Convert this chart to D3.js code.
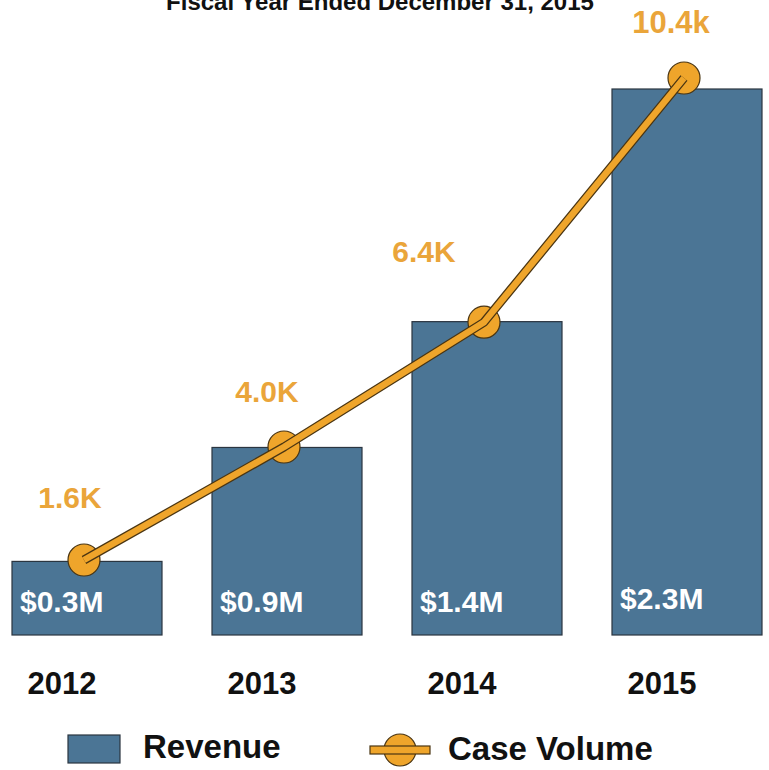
<!DOCTYPE html>
<html><head><meta charset="utf-8">
<script src="https://cdn.jsdelivr.net/npm/d3@7"></script>
<style>body{margin:0;background:#fff}svg{display:block}</style>
</head><body>
<svg id="c" width="769" height="770"></svg>
<script>
const years = ["2012", "2013", "2014", "2015"];
const revenueM = [0.31, 0.79, 1.32, 2.3];          // bar heights
const revenueLabels = ["$0.3M", "$0.9M", "$1.4M", "$2.3M"];
const caseVolumeK = [1.40, 3.51, 5.84, 10.4];      // point heights
const caseLabels = ["1.6K", "4.0K", "6.4K", "10.4k"];
const title = "Fiscal Year Ended December 31, 2015";

const svg = d3.select("#c");
const font = "'Liberation Sans', Arial, sans-serif";
const blue = "#4b7595", orange = "#efa52b", orangeText = "#eaa53a";

const x = d3.scaleBand().domain(years).range([12, 762]).paddingInner(0.25).paddingOuter(0);
const yRev = d3.scaleLinear().domain([0, 2.3]).range([635, 89]);
const yCase = d3.scaleLinear().domain([0, 10.4]).range([635, 78]);

svg.append("text").attr("x", 380).attr("y", 10).attr("text-anchor", "middle")
  .attr("font-family", font).attr("font-weight", "bold").attr("font-size", 24)
  .attr("fill", "#111").text(title);

svg.selectAll("rect.bar").data(years).join("rect").attr("class", "bar")
  .attr("x", d => x(d)).attr("width", x.bandwidth())
  .attr("y", (d, i) => yRev(revenueM[i])).attr("height", (d, i) => yRev(0) - yRev(revenueM[i]))
  .attr("fill", blue).attr("stroke", "#2a3540").attr("stroke-width", 1.2);

svg.selectAll("text.rev").data(years).join("text").attr("class", "rev")
  .attr("x", d => x(d) + 8).attr("y", (d, i) => i === 3 ? 609 : 612)
  .attr("font-family", font).attr("font-weight", "bold").attr("font-size", 30)
  .attr("fill", "#fff").text((d, i) => revenueLabels[i]);

svg.selectAll("text.yr").data(years).join("text").attr("class", "yr")
  .attr("x", d => x(d) + x.bandwidth() / 2 - 25).attr("y", 694).attr("text-anchor", "middle")
  .attr("font-family", font).attr("font-weight", "bold").attr("font-size", 31)
  .attr("fill", "#111").text(d => d);

const pts = years.map((d, i) => [x(d) + x.bandwidth() / 2 - 3, yCase(caseVolumeK[i])]);
const line = d3.line();

svg.selectAll("circle.pt").data(pts).join("circle").attr("class", "pt")
  .attr("cx", d => d[0]).attr("cy", d => d[1]).attr("r", 16)
  .attr("fill", orange).attr("stroke", "#4a3512").attr("stroke-width", 1.2);
svg.append("path").attr("d", line(pts)).attr("fill", "none")
  .attr("stroke", "#4a3512").attr("stroke-width", 9).attr("stroke-linejoin", "round").attr("stroke-linecap", "butt");
svg.append("path").attr("d", line(pts)).attr("fill", "none")
  .attr("stroke", orange).attr("stroke-width", 6.5).attr("stroke-linejoin", "round");

const labelDx = [-14, -17, -60, -13];
const labelDy = [-52, -45, -60, -45];
svg.selectAll("text.cv").data(pts).join("text").attr("class", "cv")
  .attr("x", (d, i) => d[0] + labelDx[i]).attr("y", (d, i) => d[1] + labelDy[i])
  .attr("text-anchor", "middle")
  .attr("font-family", font).attr("font-weight", "bold").attr("font-size", (d, i) => i === 3 ? 31 : 30)
  .attr("fill", orangeText).text((d, i) => caseLabels[i]);

// legend
const lg = svg.append("g");
lg.append("rect").attr("x", 68).attr("y", 735).attr("width", 52).attr("height", 28)
  .attr("fill", blue).attr("stroke", "#2a3540").attr("stroke-width", 1.2);
lg.append("text").attr("x", 143).attr("y", 758).attr("font-family", font).attr("font-weight", "bold")
  .attr("font-size", 33).attr("fill", "#111").text("Revenue");
lg.append("circle").attr("cx", 400).attr("cy", 750).attr("r", 16)
  .attr("fill", orange).attr("stroke", "#4a3512").attr("stroke-width", 1.2);
lg.append("rect").attr("x", 370).attr("y", 746).attr("width", 60).attr("height", 8)
  .attr("fill", orange).attr("stroke", "#4a3512").attr("stroke-width", 1.2);
lg.append("text").attr("x", 448).attr("y", 760).attr("font-family", font).attr("font-weight", "bold")
  .attr("font-size", 33).attr("fill", "#111").text("Case Volume");
</script>
</body></html>
